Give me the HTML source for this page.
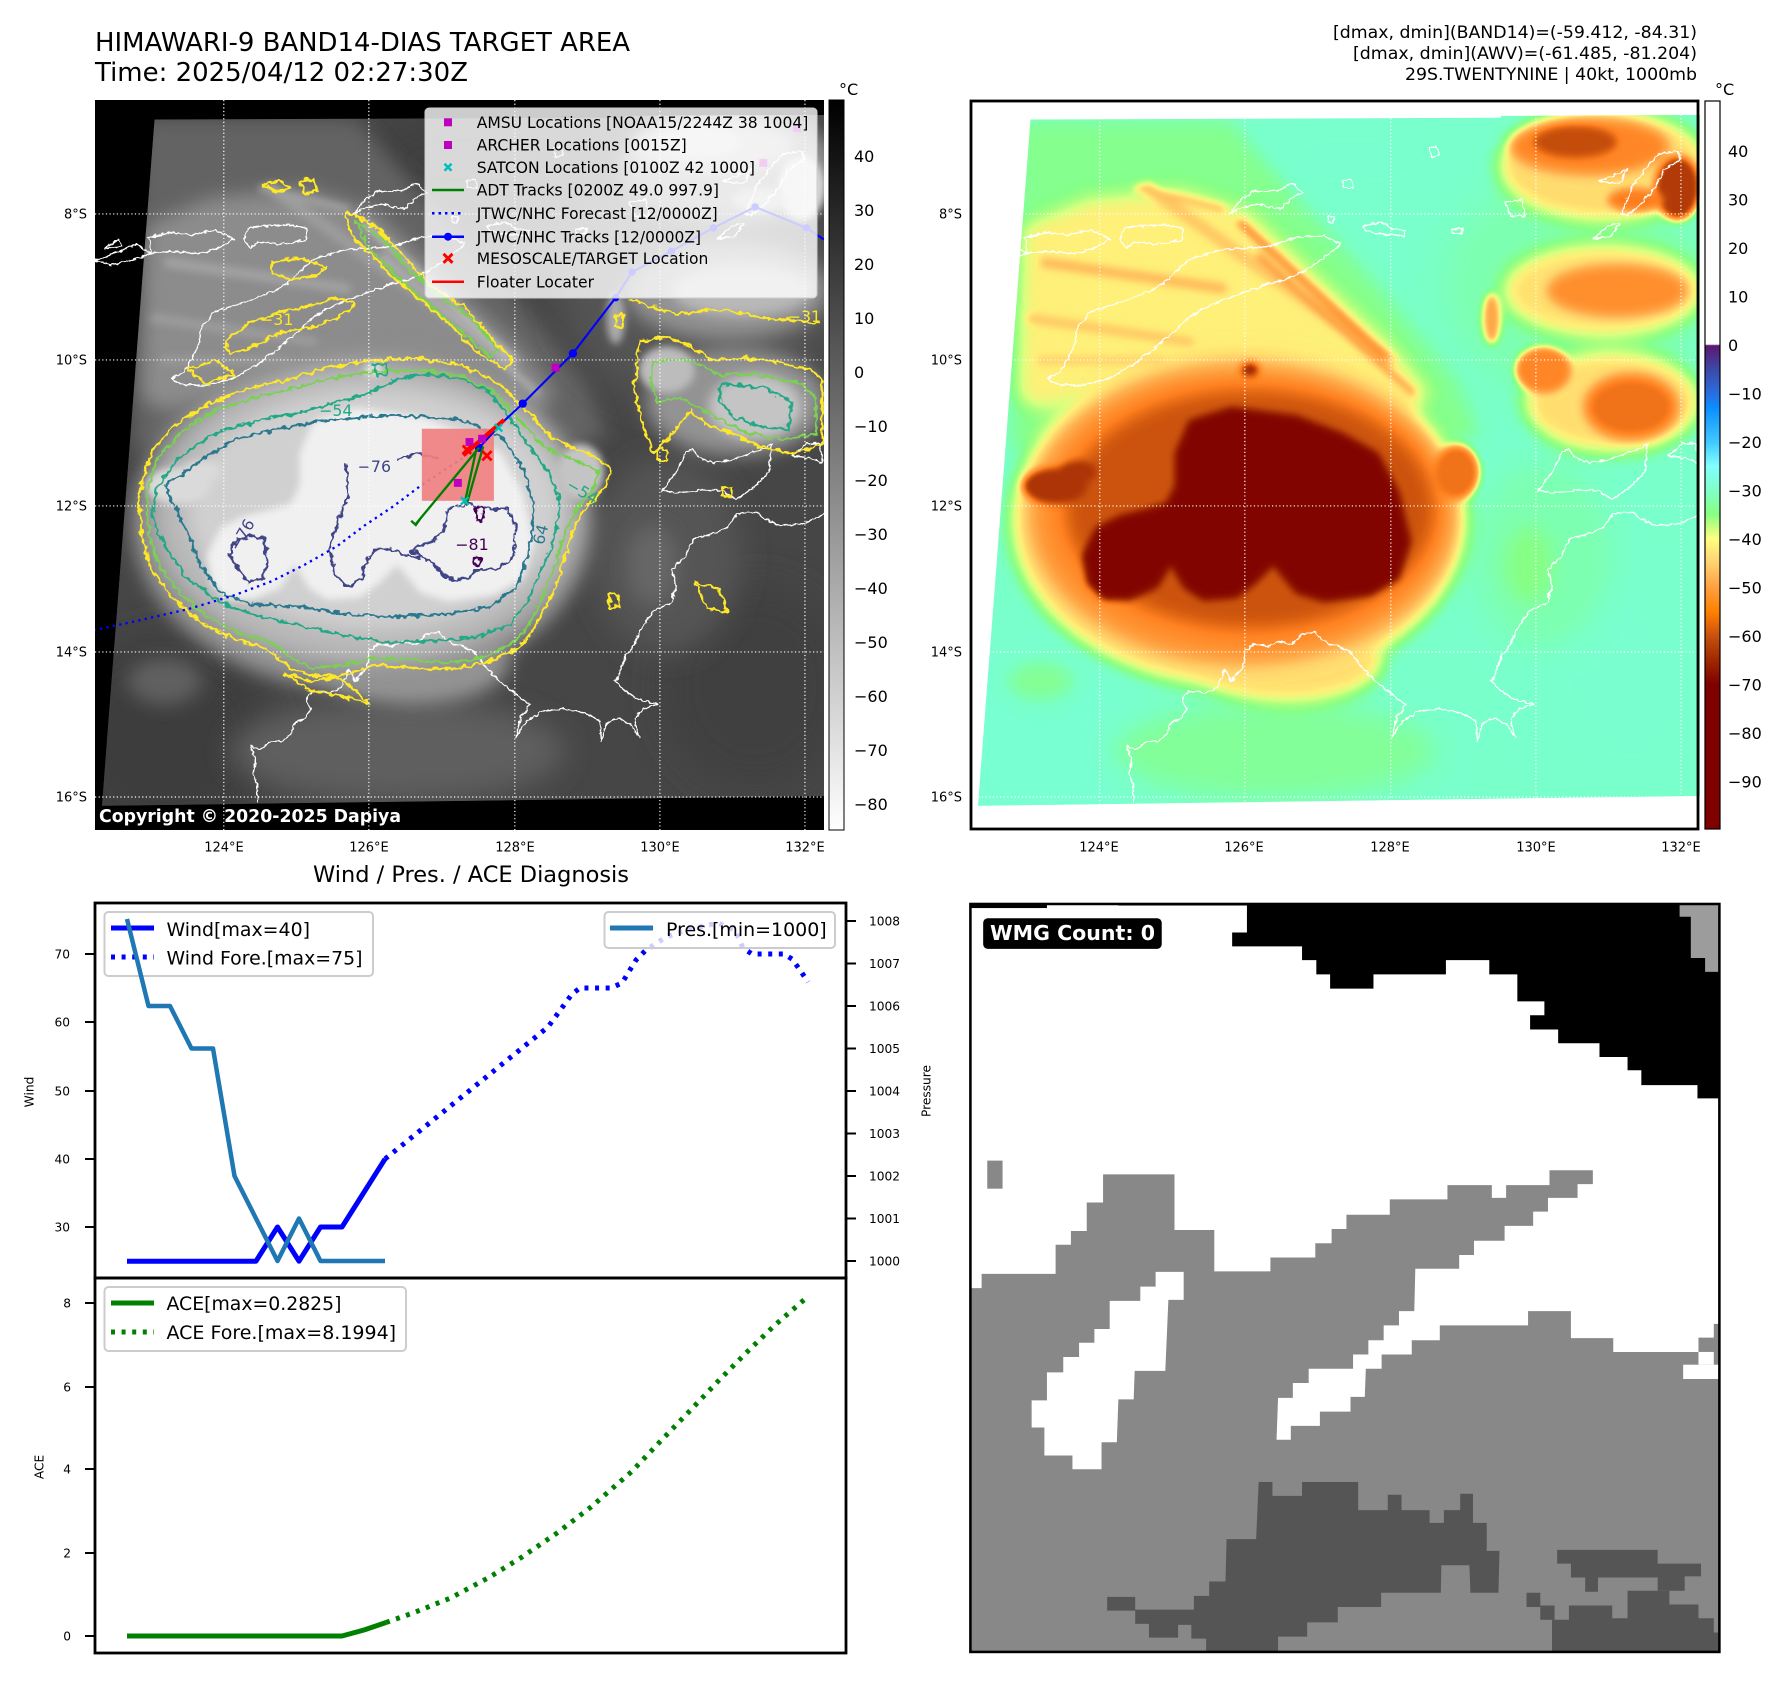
<!DOCTYPE html>
<html><head><meta charset="utf-8">
<style>
html,body{margin:0;padding:0;background:#fff;}
svg{display:block;}
text{font-family:"DejaVu Sans","Liberation Sans",sans-serif;}
</style></head>
<body>
<svg width="1788" height="1690" viewBox="0 0 1788 1690" xmlns="http://www.w3.org/2000/svg" xmlns:xlink="http://www.w3.org/1999/xlink">
<defs>
  <filter id="b8" x="-50%" y="-50%" width="200%" height="200%"><feGaussianBlur stdDeviation="8"/></filter>
  <filter id="b12" x="-50%" y="-50%" width="200%" height="200%"><feGaussianBlur stdDeviation="12"/></filter>
  <filter id="b20" x="-50%" y="-50%" width="200%" height="200%"><feGaussianBlur stdDeviation="20"/></filter>
  <filter id="b30" x="-50%" y="-50%" width="200%" height="200%"><feGaussianBlur stdDeviation="30"/></filter>
  <filter id="b40" x="-50%" y="-50%" width="200%" height="200%"><feGaussianBlur stdDeviation="40"/></filter>
  <filter id="wig" x="-5%" y="-5%" width="110%" height="110%">
    <feTurbulence type="fractalNoise" baseFrequency="0.07" numOctaves="2" seed="4" result="n"/>
    <feDisplacementMap in="SourceGraphic" in2="n" scale="16" xChannelSelector="R" yChannelSelector="G"/>
  </filter>
  <filter id="wig2" x="-5%" y="-5%" width="110%" height="110%">
    <feTurbulence type="fractalNoise" baseFrequency="0.09" numOctaves="2" seed="9" result="n"/>
    <feDisplacementMap in="SourceGraphic" in2="n" scale="10" xChannelSelector="R" yChannelSelector="G"/>
  </filter>
  <filter id="awv" filterUnits="userSpaceOnUse" x="0" y="0" width="1568" height="1570" color-interpolation-filters="sRGB">
    <feComponentTransfer>
      <feFuncR type="table" tableValues="0.47 0.47 0.47 0.47 0.47 0.475 0.48 0.50 0.53 0.66 0.85 1 1 1 1 1 0.85 0.69 0.565 0.5 0.5"/>
      <feFuncG type="table" tableValues="1 1 1 1 1 1 1 1 1 1 1 0.94 0.815 0.69 0.60 0.50 0.376 0.22 0.094 0 0"/>
      <feFuncB type="table" tableValues="0.88 0.88 0.87 0.86 0.86 0.815 0.77 0.66 0.53 0.5 0.5 0.47 0.41 0.31 0.22 0.125 0.063 0.03 0 0 0"/>
    </feComponentTransfer>
  </filter>
  <clipPath id="dclip"><path d="M128,42 L1140,38 L1140,34 L1568,32 L1568,1497 L15,1518 Z"/></clipPath>

  <linearGradient id="gray" x1="0" y1="0" x2="0" y2="1">
    <stop offset="0" stop-color="#000"/><stop offset="1" stop-color="#fff"/>
  </linearGradient>
  <linearGradient id="awvbar" x1="0" y1="0" x2="0" y2="1">
    <stop offset="0" stop-color="#fff"/>
    <stop offset="0.334" stop-color="#fff"/>
    <stop offset="0.336" stop-color="#5c1870"/>
    <stop offset="0.368" stop-color="#3c48a8"/>
    <stop offset="0.402" stop-color="#2a6ee0"/>
    <stop offset="0.42" stop-color="#0a8cff"/>
    <stop offset="0.468" stop-color="#40c8ff"/>
    <stop offset="0.501" stop-color="#80ffff"/>
    <stop offset="0.535" stop-color="#80ffc8"/>
    <stop offset="0.568" stop-color="#88ff80"/>
    <stop offset="0.601" stop-color="#ffff80"/>
    <stop offset="0.635" stop-color="#ffd070"/>
    <stop offset="0.668" stop-color="#ffa040"/>
    <stop offset="0.702" stop-color="#ff8000"/>
    <stop offset="0.735" stop-color="#c85010"/>
    <stop offset="0.768" stop-color="#a02800"/>
    <stop offset="0.801" stop-color="#800000"/>
    <stop offset="1" stop-color="#800000"/>
  </linearGradient>

  <g id="field" clip-path="url(#dclip)">
    <path d="M128,42 L1140,38 L1140,34 L1568,32 L1568,1497 L15,1518 Z" fill="#464646"/>
    <ellipse cx="150" cy="1380" rx="230" ry="230" fill="#3e3e3e" filter="url(#b40)"/>
    <ellipse cx="1420" cy="1260" rx="200" ry="220" fill="#404040" filter="url(#b40)"/>
    <ellipse cx="820" cy="130" rx="240" ry="110" fill="#404040" filter="url(#b40)"/>
    <path d="M100,40 L560,40 L700,200 L900,420 L1050,600 L1100,720 L1000,760 L800,700 L300,680 L80,760 Z" fill="#646464" filter="url(#b20)"/>
    <ellipse cx="650" cy="1400" rx="360" ry="110" fill="#5e5e5e" filter="url(#b30)"/>
    <ellipse cx="1230" cy="980" rx="160" ry="210" fill="#555" filter="url(#b30)"/>
    <ellipse cx="1300" cy="400" rx="300" ry="260" fill="#545454" filter="url(#b40)"/>
    <path d="M110,270 L250,210 L450,190 L600,240 L750,380 L900,520 L990,630 L940,690 L700,615 L400,600 L150,670 L100,640 Z" fill="#8c8c8c" filter="url(#b20)"/>
    <g filter="url(#b8)" fill="none" stroke-linecap="round">
      <path d="M380,190 L900,560" stroke="#9c9c9c" stroke-width="26"/>
      <path d="M580,265 L890,550" stroke="#c4c4c4" stroke-width="12"/>
      <path d="M620,335 L950,630" stroke="#b4b4b4" stroke-width="12"/>
      <path d="M160,350 L540,405" stroke="#a2a2a2" stroke-width="22"/>
      <path d="M130,470 L470,520" stroke="#9c9c9c" stroke-width="20"/>
      <path d="M360,190 L540,235" stroke="#a0a0a0" stroke-width="16"/>
      <path d="M150,560 L410,560" stroke="#999" stroke-width="18"/>
    </g>
    <ellipse cx="1360" cy="140" rx="230" ry="125" fill="#949494" filter="url(#b20)"/>
    <ellipse cx="1330" cy="100" rx="170" ry="60" fill="#bcbcbc" filter="url(#b12)"/>
    <ellipse cx="1300" cy="90" rx="90" ry="35" fill="#d2d2d2" filter="url(#b8)"/>
    <ellipse cx="1520" cy="190" rx="50" ry="70" fill="#d8d8d8" filter="url(#b8)"/>
    <ellipse cx="1430" cy="215" rx="60" ry="25" fill="#c0c0c0" filter="url(#b8)"/>
    <ellipse cx="1360" cy="410" rx="220" ry="105" fill="#929292" filter="url(#b20)"/>
    <ellipse cx="1390" cy="410" rx="150" ry="55" fill="#b8b8b8" filter="url(#b12)"/>
    <ellipse cx="1120" cy="470" rx="20" ry="55" fill="#aaa" filter="url(#b8)"/>
    <ellipse cx="1380" cy="650" rx="195" ry="115" fill="#939393" filter="url(#b20)"/>
    <ellipse cx="1420" cy="660" rx="100" ry="70" fill="#c4c4c4" filter="url(#b12)"/>
    <ellipse cx="1230" cy="580" rx="60" ry="50" fill="#bcbcbc" filter="url(#b8)"/>
    <ellipse cx="1200" cy="1000" rx="55" ry="85" fill="#666" filter="url(#b20)"/>
    <!-- storm -->
    <ellipse cx="575" cy="905" rx="495" ry="365" fill="#939393" filter="url(#b20)"/>
    <ellipse cx="690" cy="1210" rx="200" ry="90" fill="#939393" filter="url(#b20)"/>
    <ellipse cx="585" cy="890" rx="455" ry="320" fill="#b8b8b8" filter="url(#b20)"/>
    <ellipse cx="600" cy="880" rx="400" ry="260" fill="#d0d0d0" filter="url(#b20)"/>
    <path d="M470,690 L560,662 L700,680 L800,718 L875,760 L920,845 L945,950 L920,1030 L860,1065 L760,1078 L700,1060 L650,1000 L610,1040 L570,1070 L500,1075 L460,1050 L430,1000 L400,1048 L340,1075 L285,1075 L250,1040 L240,980 L270,920 L320,895 L380,880 L420,868 L440,830 L440,760 Z" fill="#f0f0f0" filter="url(#b8)"/>
    <ellipse cx="180" cy="830" rx="70" ry="40" fill="#dadada" filter="url(#b8)"/>
    <ellipse cx="230" cy="800" rx="40" ry="25" fill="#dadada" filter="url(#b8)"/>
    <ellipse cx="1045" cy="800" rx="50" ry="60" fill="#c4c4c4" filter="url(#b8)"/>
    <ellipse cx="600" cy="580" rx="20" ry="16" fill="#e0e0e0" filter="url(#b8)"/>
    <ellipse cx="150" cy="1250" rx="80" ry="50" fill="#606060" filter="url(#b20)"/>
  </g>

  <g id="coast" fill="none" stroke="#fff" stroke-width="3" stroke-linejoin="round" filter="url(#wig2)">
    <path d="M165,600 L190,585 L210,555 L225,520 L228,490 L258,455 L330,432 L400,405 L440,370 L470,342 L540,322 L640,315 L700,295 L760,292 L795,310 L765,335 L730,360 L680,385 L640,395 L600,410 L540,430 L480,460 L440,495 L400,530 L350,568 L300,598 L240,613 L190,612 Z"/>
    <path d="M555,245 L580,215 L610,195 L660,195 L690,180 L715,200 L690,210 L665,235 L620,225 L585,230 Z"/>
    <path d="M115,295 L160,285 L210,290 L260,280 L300,300 L260,320 L220,330 L160,325 L120,330 Z"/>
    <path d="M330,275 L380,270 L420,268 L455,275 L455,300 L400,310 L350,305 L335,320 L320,300 Z"/>
    <path d="M0,345 L40,330 L90,310 L120,330 L80,345 L30,355 Z"/>
    <path d="M20,320 L50,300 L60,315 Z"/>
    <path d="M770,250 L782,252 L780,265 L768,262 Z"/>
    <path d="M800,172 L818,172 L822,190 L802,190 Z"/>
    <path d="M985,104 L1000,100 L1008,118 L990,122 Z"/>
    <path d="M1150,218 L1185,215 L1192,250 L1160,250 Z"/>
    <path d="M845,272 L880,262 L910,278 L935,282 L930,292 L880,288 L850,282 Z"/>
    <path d="M1035,278 L1058,276 L1055,288 L1035,286 Z"/>
    <path d="M1400,245 L1420,190 L1450,150 L1480,115 L1520,110 L1525,130 L1490,150 L1470,190 L1440,225 L1410,248 Z"/>
    <path d="M1340,300 L1370,270 L1395,265 L1380,290 Z"/>
    <path d="M1350,175 L1390,160 L1410,150 L1395,180 Z"/>
    <path d="M590,1185 L610,1170 L640,1175 L660,1165 L690,1170 L710,1150 L740,1145 L760,1165 L790,1175 L815,1185 L840,1220 L870,1250 L900,1275 L935,1300 L915,1330 L905,1370 L925,1340 L960,1315 L1010,1310 L1060,1320 L1085,1335 L1090,1380 L1100,1340 L1125,1330 L1150,1340 L1170,1370 L1160,1330 L1180,1310 L1210,1300 L1170,1290 L1140,1270 L1120,1250 L1140,1200 L1160,1170 L1180,1130 L1200,1100 L1240,1080 L1250,1040 L1240,1010 L1270,980 L1290,940 L1320,935 L1360,920 L1380,890 L1420,885 L1440,900 L1470,915 L1520,912 L1540,905 L1568,890"/>
    <path d="M590,1185 L585,1220 L560,1250 L545,1225 L530,1265 L500,1275 L470,1270 L455,1290 L465,1310 L450,1330 L430,1340 L420,1365 L400,1380 L380,1380 L355,1395 L335,1390 L345,1420 L340,1450 L350,1480 L350,1510"/>
    <path d="M1220,840 L1250,800 L1270,760 L1285,750 L1300,770 L1330,780 L1370,775 L1410,760 L1440,750 L1455,740 L1450,800 L1420,830 L1380,860 L1350,840 L1300,840 L1250,845 Z"/>
    <path d="M1500,765 L1530,740 L1560,738 L1565,780 L1540,770 Z"/>
  </g>

  <g id="grid" fill="none" stroke="#fff" stroke-width="2.6" stroke-dasharray="2.6 5.2">
    <path d="M0,245H1568 M0,559H1568 M0,873H1568 M0,1187H1568 M0,1499H1568 M277,0V1570 M589,0V1570 M903,0V1570 M1215,0V1570 M1527,0V1570"/>
  </g>
</defs>

<text x="95" y="51" font-size="25.7" textLength="535" lengthAdjust="spacingAndGlyphs">HIMAWARI-9 BAND14-DIAS TARGET AREA</text>
<text x="95" y="81" font-size="25.7" textLength="373" lengthAdjust="spacingAndGlyphs">Time: 2025/04/12 02:27:30Z</text>
<text x="1697" y="38" font-size="17.3" text-anchor="end" textLength="364" lengthAdjust="spacingAndGlyphs">[dmax, dmin](BAND14)=(-59.412, -84.31)</text>
<text x="1697" y="59" font-size="17.3" text-anchor="end" textLength="344" lengthAdjust="spacingAndGlyphs">[dmax, dmin](AWV)=(-61.485, -81.204)</text>
<text x="1697" y="80" font-size="17.3" text-anchor="end" textLength="292" lengthAdjust="spacingAndGlyphs">29S.TWENTYNINE | 40kt, 1000mb</text>

<svg x="95" y="100" width="729" height="730" viewBox="0 0 1568 1570" preserveAspectRatio="none">
  <rect width="1568" height="1570" fill="#000"/>
  <use href="#field" xlink:href="#field"/>
  <use href="#coast" xlink:href="#coast"/>
  <g fill="none" stroke-width="5" stroke-linejoin="round" filter="url(#wig)">
    <g stroke="#fde725">
      <path d="M95,845 L120,760 L170,700 L240,655 L330,620 L420,600 L500,575 L590,560 L690,555 L790,570 L870,610 L930,670 L985,730 L1050,755 L1110,790 L1100,830 L1060,870 L1030,920 L1010,990 L985,1060 L950,1130 L910,1180 L840,1210 L760,1225 L680,1220 L600,1215 L540,1235 L470,1240 L420,1220 L370,1180 L300,1160 L230,1125 L170,1075 L120,1010 L100,930 Z"/>
      <path d="M280,520 L330,480 L400,455 L470,440 L520,425 L560,440 L520,470 L460,490 L400,500 L340,530 L290,545 Z"/>
      <path d="M540,240 L600,270 L660,330 L720,400 L790,440 L860,520 L900,560 L880,580 L820,540 L760,480 L700,430 L640,380 L590,330 L550,290 Z"/>
      <path d="M360,180 L400,175 L420,190 L390,200 Z"/>
      <path d="M440,175 L470,170 L480,195 L450,200 Z"/>
      <path d="M380,350 L440,340 L500,360 L470,380 L420,385 L380,375 Z"/>
      <path d="M200,580 L260,560 L300,590 L240,610 Z"/>
      <path d="M1170,520 L1230,510 L1280,530 L1330,560 L1400,555 L1470,565 L1540,580 L1565,600 L1565,740 L1500,760 L1430,745 L1380,720 L1320,700 L1280,670 L1240,720 L1200,760 L1180,700 L1160,620 Z"/>
      <path d="M1150,430 L1250,460 L1350,450 L1450,470 L1560,480"/>
      <path d="M410,1235 L470,1250 L520,1240 L560,1270 L590,1300 L560,1290 L520,1280 L460,1270 Z"/>
      <path d="M1290,1040 L1340,1050 L1360,1100 L1320,1095 Z"/>
      <path d="M1105,1065 L1125,1062 L1128,1090 L1108,1090 Z"/>
      <path d="M1210,750 L1232,752 L1230,778 L1212,775 Z"/>
      <path d="M1350,835 L1370,835 L1368,855 L1350,852 Z"/>
      <path d="M1120,460 L1135,462 L1135,490 L1120,488 Z"/>
    </g>
    <g stroke="#7ad151">
      <path d="M110,845 L135,770 L185,715 L255,670 L345,640 L430,620 L510,598 L595,585 L690,580 L785,592 L860,630 L915,690 L968,748 L1030,775 L1085,800 L1070,840 L1035,880 L1010,930 L990,1000 L965,1065 L930,1135 L890,1175 L830,1200 L760,1210 L680,1205 L600,1200 L540,1215 L470,1222 L430,1205 L380,1168 L310,1145 L240,1110 L185,1062 L135,1000 L115,925 Z"/>
      <path d="M560,260 L620,300 L680,370 L740,420 L810,470 L870,540 L850,550 L790,500 L720,440 L650,380 L590,320 Z"/>
      <path d="M1200,560 L1280,560 L1340,590 L1420,590 L1520,610 L1550,640 L1550,720 L1480,730 L1400,715 L1330,680 L1260,640 L1210,650 L1195,600 Z"/>
    </g>
    <g stroke="#22a884">
      <path d="M130,840 L175,775 L250,720 L350,690 L450,670 L520,650 L580,635 L650,600 L720,590 L790,600 L850,630 L890,680 L930,740 L975,800 L1000,860 L990,940 L960,1010 L930,1080 L890,1130 L820,1155 L720,1165 L620,1165 L530,1150 L440,1130 L350,1110 L270,1080 L200,1030 L150,960 L125,900 Z"/>
      <path d="M1350,610 L1440,620 L1500,650 L1490,710 L1420,700 L1370,680 L1340,640 Z"/>
      <path d="M600,570 L625,565 L630,590 L605,592 Z"/>
    </g>
    <g stroke="#2a788e">
      <path d="M150,830 L220,780 L300,730 L400,705 L500,690 L600,680 L700,680 L800,690 L880,730 L925,800 L945,880 L935,970 L905,1050 L850,1090 L760,1105 L650,1112 L540,1105 L440,1090 L340,1085 L270,1060 L225,1000 L200,930 L170,870 Z"/>
    </g>
    <g stroke="#414487">
      <path d="M540,780 L545,850 L525,900 L505,960 L515,1020 L545,1048 L575,1030 L585,985 L610,962 L660,975 L700,985"/>
      <path d="M680,970 L720,950 L750,930 L760,880 L800,870 L850,880 L890,880 L905,920 L900,980 L880,1000 L850,1010 L820,1010 L800,1030 L760,1030 L730,1000 L700,980 Z"/>
      <path d="M650,772 L700,760 L740,772"/>
      <path d="M300,950 L340,935 L365,945 L370,1000 L360,1030 L330,1040 L310,1010 L290,980 Z"/>
    </g>
    <g stroke="#440154">
      <path d="M818,878 L834,878 L836,905 L820,906 Z"/>
      <path d="M815,985 L830,985 L830,998 L815,998 Z"/>
    </g>
  </g>
  <g font-size="34" font-family="DejaVu Sans">
    <text x="355" y="484" fill="#fde725">−31</text>
    <text x="1490" y="478" fill="#fde725">−31</text>
    <text x="482" y="680" fill="#22a884">−54</text>
    <text x="565" y="800" fill="#414487">−76</text>
    <text x="775" y="968" fill="#440154">−81</text>
    <text x="290" y="960" fill="#414487" transform="rotate(-60 310 950)">−76</text>
    <text x="935" y="950" fill="#2a788e" transform="rotate(-75 955 935)">64</text>
    <text x="1010" y="850" fill="#22a884" transform="rotate(30 1040 845)">−54</text>
  </g>
  <use href="#grid" xlink:href="#grid"/>
  <path d="M826,748 L760,790 L700,830 L640,875 L580,915 L520,960 L450,1000 L380,1035 L300,1065 L200,1095 L100,1118 L0,1140" fill="none" stroke="#0000ff" stroke-width="5" stroke-dasharray="5 9"/>
  <rect x="703" y="707" width="155" height="155" fill="#f08080" fill-opacity="0.92"/>
  <path d="M826,748 L880,690 L920,653 L1028,545 L1070,490 L1120,425 L1155,370 L1240,325 L1330,275 L1420,230 L1530,275 L1568,300" fill="none" stroke="#0000ff" stroke-width="4.5"/>
  <g fill="#0000ff">
    <circle cx="1028" cy="545" r="9"/><circle cx="920" cy="653" r="9"/><circle cx="826" cy="748" r="9"/>
    <circle cx="1120" cy="425" r="8"/><circle cx="1155" cy="370" r="8"/><circle cx="1240" cy="325" r="8"/>
    <circle cx="1330" cy="275" r="8"/><circle cx="1420" cy="230" r="8"/><circle cx="1530" cy="275" r="8"/>
  </g>
  <path d="M792,764 L880,688" stroke="#ff0000" stroke-width="9" fill="none"/>
  <g stroke="#008000" stroke-width="5" fill="none">
    <path d="M826,748 L690,912 M680,905 L690,914 L700,900"/>
    <path d="M835,745 L800,868"/>
    <path d="M820,752 L795,868"/>
  </g>
  <g fill="#bf00bf">
    <rect x="797" y="727" width="17" height="17"/><rect x="824" y="720" width="17" height="17"/>
    <rect x="772" y="815" width="17" height="17"/><rect x="982" y="567" width="17" height="17"/>
    <rect x="1502" y="52" width="17" height="17"/><rect x="1429" y="127" width="17" height="17"/>
  </g>
  <g stroke="#00bfbf" stroke-width="5">
    <path d="M787,854 L803,870 M787,870 L803,854"/>
    <path d="M860,697 L876,713 M860,713 L876,697"/>
  </g>
  <g stroke="#ff0000" stroke-width="6">
    <path d="M833,755 L853,775 M833,775 L853,755"/>
    <path d="M791,743 L809,761 M791,761 L809,743"/>
  </g>
</svg>
<rect x="425" y="108" width="392" height="190" rx="4" fill="#fff" fill-opacity="0.8" stroke="#cccccc" stroke-width="1"/>
<rect x="444" y="118.3" width="8" height="8" fill="#bf00bf"/>
<rect x="444" y="141" width="8" height="8" fill="#bf00bf"/>
<path d="M444.5,163.8 L451.5,170.8 M444.5,170.8 L451.5,163.8" stroke="#00bfbf" stroke-width="2.5"/>
<path d="M432,190 L464,190" stroke="#008000" stroke-width="2.5"/>
<path d="M432,213.3 L464,213.3" stroke="#0000ff" stroke-width="2.5" stroke-dasharray="2.5 4"/>
<path d="M432,236.7 L464,236.7" stroke="#0000ff" stroke-width="2.5"/><circle cx="448" cy="236.7" r="4" fill="#0000ff"/>
<path d="M443.5,253.8 L452.5,262.8 M443.5,262.8 L452.5,253.8" stroke="#ff0000" stroke-width="3"/>
<path d="M432,281.7 L464,281.7" stroke="#ff0000" stroke-width="2.5"/>
<g font-size="15.6">
  <text x="476.7" y="128" textLength="331.7" lengthAdjust="spacingAndGlyphs">AMSU Locations [NOAA15/2244Z 38 1004]</text>
  <text x="476.7" y="150.7" textLength="210" lengthAdjust="spacingAndGlyphs">ARCHER Locations [0015Z]</text>
  <text x="476.7" y="173" textLength="278.3" lengthAdjust="spacingAndGlyphs">SATCON Locations [0100Z 42 1000]</text>
  <text x="476.7" y="195.7" textLength="242.3" lengthAdjust="spacingAndGlyphs">ADT Tracks [0200Z 49.0 997.9]</text>
  <text x="476.7" y="219" textLength="241" lengthAdjust="spacingAndGlyphs">JTWC/NHC Forecast [12/0000Z]</text>
  <text x="476.7" y="242.4" textLength="224.3" lengthAdjust="spacingAndGlyphs">JTWC/NHC Tracks [12/0000Z]</text>
  <text x="476.7" y="264" textLength="231.7" lengthAdjust="spacingAndGlyphs">MESOSCALE/TARGET Location</text>
  <text x="476.7" y="287.4" textLength="117.3" lengthAdjust="spacingAndGlyphs">Floater Locater</text>
</g>
<text x="99" y="822" font-size="17.5" font-weight="bold" fill="#fff" textLength="302" lengthAdjust="spacingAndGlyphs">Copyright © 2020-2025 Dapiya</text>

<g font-size="13" text-anchor="end">
  <text x="87" y="218.7">8°S</text><text x="87" y="364.7">10°S</text><text x="87" y="510.7">12°S</text><text x="87" y="656.7">14°S</text><text x="87" y="801.7">16°S</text>
  <text x="962" y="218.7">8°S</text><text x="962" y="364.7">10°S</text><text x="962" y="510.7">12°S</text><text x="962" y="656.7">14°S</text><text x="962" y="801.7">16°S</text>
</g>
<g font-size="13" text-anchor="middle">
  <text x="224" y="851.5">124°E</text><text x="369" y="851.5">126°E</text><text x="515" y="851.5">128°E</text><text x="660" y="851.5">130°E</text><text x="805" y="851.5">132°E</text>
  <text x="1099" y="851.5">124°E</text><text x="1244" y="851.5">126°E</text><text x="1390" y="851.5">128°E</text><text x="1536" y="851.5">130°E</text><text x="1681" y="851.5">132°E</text>
</g>

<rect x="829" y="100" width="15" height="730" fill="url(#gray)" stroke="#000" stroke-width="1"/>
<text x="839" y="95" font-size="16">°C</text>
<g font-size="16">
  <text x="854" y="161.8">40</text><text x="854" y="215.8">30</text><text x="854" y="269.8">20</text><text x="854" y="323.8">10</text>
  <text x="854" y="377.8">0</text><text x="854" y="431.8">−10</text><text x="854" y="485.8">−20</text><text x="854" y="539.8">−30</text>
  <text x="854" y="593.8">−40</text><text x="854" y="647.8">−50</text><text x="854" y="701.8">−60</text><text x="854" y="755.8">−70</text><text x="854" y="809.8">−80</text>
</g>

<svg x="971" y="100" width="729" height="730" viewBox="0 0 1568 1570" preserveAspectRatio="none">
  <rect width="1568" height="1570" fill="#fff"/>
  <use href="#field" xlink:href="#field" filter="url(#awv)"/>
  <use href="#coast" xlink:href="#coast"/>
  <use href="#grid" xlink:href="#grid"/>
</svg>
<rect x="971" y="101" width="727" height="728" fill="none" stroke="#000" stroke-width="2.8"/>
<rect x="1705" y="101" width="15" height="728" fill="url(#awvbar)" stroke="#000" stroke-width="1.2"/>
<text x="1715" y="95" font-size="16">°C</text>
<g font-size="16">
  <text x="1728" y="156.8">40</text><text x="1728" y="205.3">30</text><text x="1728" y="253.8">20</text><text x="1728" y="302.3">10</text>
  <text x="1728" y="350.8">0</text><text x="1728" y="399.3">−10</text><text x="1728" y="447.8">−20</text><text x="1728" y="496.3">−30</text>
  <text x="1728" y="544.8">−40</text><text x="1728" y="593.3">−50</text><text x="1728" y="641.8">−60</text><text x="1728" y="690.3">−70</text>
  <text x="1728" y="738.8">−80</text><text x="1728" y="787.3">−90</text>
</g>

<text x="471" y="882" font-size="22.3" text-anchor="middle" textLength="316" lengthAdjust="spacingAndGlyphs">Wind / Pres. / ACE Diagnosis</text>

<polyline points="127,1261.2 148.5,1261.2 170,1261.2 191.5,1261.2 213,1261.2 234.5,1261.2 256,1261.2 277.5,1227 299,1261.2 320.5,1227 342,1227 363.5,1193 385,1159" fill="none" stroke="#0000ff" stroke-width="5" stroke-linejoin="round"/>
<polyline points="385,1159 548,1027 572,994 580,988 611,988 622,983 636,960 646,950 666,937 690,929 718,923 735,930 743,948 752,954 784,954 792,959 800,970 808,982" fill="none" stroke="#0000ff" stroke-width="5" stroke-dasharray="4 6.6"/>
<rect x="104.5" y="912" width="268.5" height="64" rx="4" fill="#fff" fill-opacity="0.8" stroke="#cccccc" stroke-width="2"/>
<path d="M111,928 L154,928" stroke="#0000ff" stroke-width="5"/>
<path d="M111,957 L154,957" stroke="#0000ff" stroke-width="5" stroke-dasharray="4 6.6"/>
<text x="166.5" y="936" font-size="19" textLength="143.5" lengthAdjust="spacingAndGlyphs">Wind[max=40]</text>
<text x="166.5" y="964.5" font-size="19" textLength="196" lengthAdjust="spacingAndGlyphs">Wind Fore.[max=75]</text>
<polyline points="127,919 148.5,1006 170,1006 191.5,1048.5 213,1048.5 234.5,1176 256,1218.5 277.5,1261 299,1218.5 320.5,1261 342,1261 363.5,1261 385,1261" fill="none" stroke="#1f77b4" stroke-width="4.5" stroke-linejoin="round"/>
<rect x="604.5" y="912" width="230.5" height="36" rx="4" fill="#fff" fill-opacity="0.8" stroke="#cccccc" stroke-width="2"/>
<path d="M610,928 L653,928" stroke="#1f77b4" stroke-width="5"/>
<text x="666" y="936" font-size="19" textLength="160.7" lengthAdjust="spacingAndGlyphs">Pres.[min=1000]</text>

<rect x="95" y="903" width="751" height="375" fill="none" stroke="#000" stroke-width="2.8"/>
<g stroke="#000" stroke-width="2">
  <path d="M85,954H95 M85,1022H95 M85,1091H95 M85,1159H95 M85,1227H95"/>
  <path d="M846,921H856 M846,963.5H856 M846,1006H856 M846,1048.5H856 M846,1091H856 M846,1133.5H856 M846,1176H856 M846,1218.5H856 M846,1261H856"/>
  <path d="M85,1303H95 M85,1387H95 M85,1469H95 M85,1553H95 M85,1636H95"/>
</g>
<g font-size="12.2" text-anchor="end">
  <text x="70" y="958.4">70</text><text x="70" y="1026.4">60</text><text x="70" y="1095.4">50</text><text x="70" y="1163.4">40</text><text x="70" y="1231.4">30</text>
  <text x="71" y="1307.4">8</text><text x="71" y="1391.4">6</text><text x="71" y="1473.4">4</text><text x="71" y="1557.4">2</text><text x="71" y="1640.4">0</text>
</g>
<g font-size="12.2">
  <text x="869" y="925.4">1008</text><text x="869" y="967.9">1007</text><text x="869" y="1010.4">1006</text><text x="869" y="1052.9">1005</text>
  <text x="869" y="1095.4">1004</text><text x="869" y="1137.9">1003</text><text x="869" y="1180.4">1002</text><text x="869" y="1222.9">1001</text><text x="869" y="1265.4">1000</text>
</g>
<text transform="translate(33.5,1092) rotate(-90)" font-size="12.2" text-anchor="middle">Wind</text>
<text transform="translate(930.5,1091) rotate(-90)" font-size="12.2" text-anchor="middle">Pressure</text>
<text transform="translate(43.5,1467) rotate(-90)" font-size="12.2" text-anchor="middle">ACE</text>

<polyline points="127,1636 342,1636 364,1630 386,1622.5" fill="none" stroke="#008000" stroke-width="5" stroke-linejoin="round"/>
<polyline points="386,1622.5 413,1613 450.6,1598 488,1578 522,1557 557,1533 591,1507 631.5,1471.7 660,1441.7 689,1411.7 717.6,1381.7 746,1353 775,1325 807.7,1296.7" fill="none" stroke="#008000" stroke-width="5" stroke-dasharray="4 6.6"/>
<rect x="104.5" y="1287" width="301.5" height="64" rx="4" fill="#fff" fill-opacity="0.8" stroke="#cccccc" stroke-width="2"/>
<path d="M111,1303 L154,1303" stroke="#008000" stroke-width="5"/>
<path d="M111,1332 L154,1332" stroke="#008000" stroke-width="5" stroke-dasharray="4 6.6"/>
<text x="166.5" y="1310" font-size="19" textLength="175" lengthAdjust="spacingAndGlyphs">ACE[max=0.2825]</text>
<text x="166.5" y="1339" font-size="19" textLength="229.6" lengthAdjust="spacingAndGlyphs">ACE Fore.[max=8.1994]</text>
<rect x="95" y="1278" width="751" height="375" fill="none" stroke="#000" stroke-width="2.8"/>

<svg x="950" y="880" width="800" height="800" viewBox="0 0 1568 1568">
  <rect x="40" y="47" width="1468" height="1466" fill="#fff"/>
  <path fill="#888888" d="M40,800 L62,800 L62,772 L207,772 L207,715 L237,715 L237,688 L268,688 L268,632 L300,632 L300,577 L440,577 L440,686 L518,686 L518,767 L628,767 L628,740 L716,740 L716,712 L748,712 L748,684 L777,684 L777,656 L862,656 L862,626 L975,626 L975,598 L1062,598 L1062,623 L1090,623 L1090,598 L1175,598 L1175,569 L1260,569 L1260,596 L1230,596 L1230,623 L1172,623 L1172,650 L1143,650 L1143,678 L1087,678 L1087,707 L1027,707 L1027,735 L998,735 L998,762 L912,762 L910,845 L880,845 L880,873 L850,873 L850,902 L820,902 L820,930 L790,930 L790,958 L703,958 L703,986 L672,986 L672,1015 L643,1015 L640,1097 L668,1097 L668,1070 L725,1070 L725,1042 L785,1042 L785,1013 L813,1013 L815,958 L846,958 L846,930 L905,930 L905,902 L960,902 L960,873 L1133,873 L1133,845 L1217,845 L1217,898 L1300,898 L1300,925 L1467,925 L1467,897 L1497,897 L1497,870 L1508,870 L1508,1513 L40,1513 Z"/>
  <rect x="1467" y="925" width="30" height="25" fill="#fff"/>
  <rect x="1437" y="950" width="71" height="28" fill="#fff"/>
  <path fill="#fff" d="M403,768 L458,768 L458,823 L428,823 L422,962 L362,962 L360,1018 L330,1018 L327,1102 L297,1102 L297,1155 L240,1155 L240,1128 L185,1128 L185,1073 L160,1073 L160,1020 L190,1020 L190,965 L222,965 L222,935 L253,935 L253,907 L283,907 L283,880 L313,880 L313,825 L373,825 L373,797 L403,797 Z"/>
  <path fill="#555555" d="M605,1180 L632,1180 L632,1207 L690,1207 L690,1180 L800,1180 L800,1235 L858,1235 L858,1205 L885,1205 L885,1235 L940,1235 L940,1260 L968,1260 L968,1235 L1000,1235 L1000,1203 L1025,1203 L1025,1260 L1052,1260 L1052,1315 L1077,1315 L1075,1397 L1020,1397 L1018,1343 L963,1343 L962,1397 L845,1397 L845,1425 L760,1425 L760,1455 L700,1455 L700,1483 L643,1483 L643,1513 L502,1513 L502,1487 L473,1487 L473,1460 L447,1460 L447,1485 L390,1485 L390,1458 L363,1458 L363,1432 L308,1432 L308,1405 L363,1405 L363,1430 L478,1430 L478,1403 L508,1403 L508,1375 L540,1375 L542,1292 L600,1292 Z"/>
  <path fill="#555555" d="M1190,1313 L1387,1313 L1387,1340 L1472,1340 L1472,1365 L1440,1365 L1440,1393 L1387,1393 L1387,1367 L1270,1367 L1270,1395 L1245,1395 L1245,1367 L1217,1367 L1217,1340 L1190,1340 Z"/>
  <path fill="#555555" d="M1180,1450 L1213,1450 L1213,1422 L1298,1422 L1298,1447 L1328,1447 L1328,1393 L1410,1393 L1410,1420 L1467,1420 L1467,1447 L1497,1447 L1497,1475 L1508,1475 L1508,1513 L1180,1513 Z"/>
  <rect x="1130" y="1397" width="27" height="28" fill="#555555"/>
  <rect x="1157" y="1422" width="28" height="28" fill="#555555"/>
  <path fill="#000" d="M585,47 L1508,47 L1508,428 L1465,428 L1465,402 L1355,402 L1355,373 L1328,373 L1328,347 L1273,347 L1273,320 L1192,320 L1192,293 L1137,293 L1137,265 L1165,265 L1165,238 L1112,238 L1112,185 L1057,185 L1057,157 L972,157 L972,185 L830,185 L830,213 L745,213 L745,185 L718,185 L718,157 L690,157 L690,130 L553,130 L553,103 L582,103 L582,47 Z"/>
  <path fill="#9c9c9c" d="M1430,47 L1508,47 L1508,180 L1480,180 L1480,153 L1452,153 L1452,72 L1430,72 Z"/>
  <rect x="40" y="47" width="150" height="8" fill="#000"/>
  <rect x="330" y="47" width="255" height="3" fill="#000"/>
  <rect x="73" y="550" width="30" height="55" fill="#888888"/>
  <rect x="65" y="75" width="350" height="60" rx="9" fill="#000"/>
  <rect x="40" y="47" width="1468" height="1466" fill="none" stroke="#000" stroke-width="5"/>
</svg>
<text x="990" y="940" font-size="20.5" font-weight="bold" fill="#fff" textLength="165" lengthAdjust="spacingAndGlyphs">WMG Count: 0</text>
</svg>
</body></html>
